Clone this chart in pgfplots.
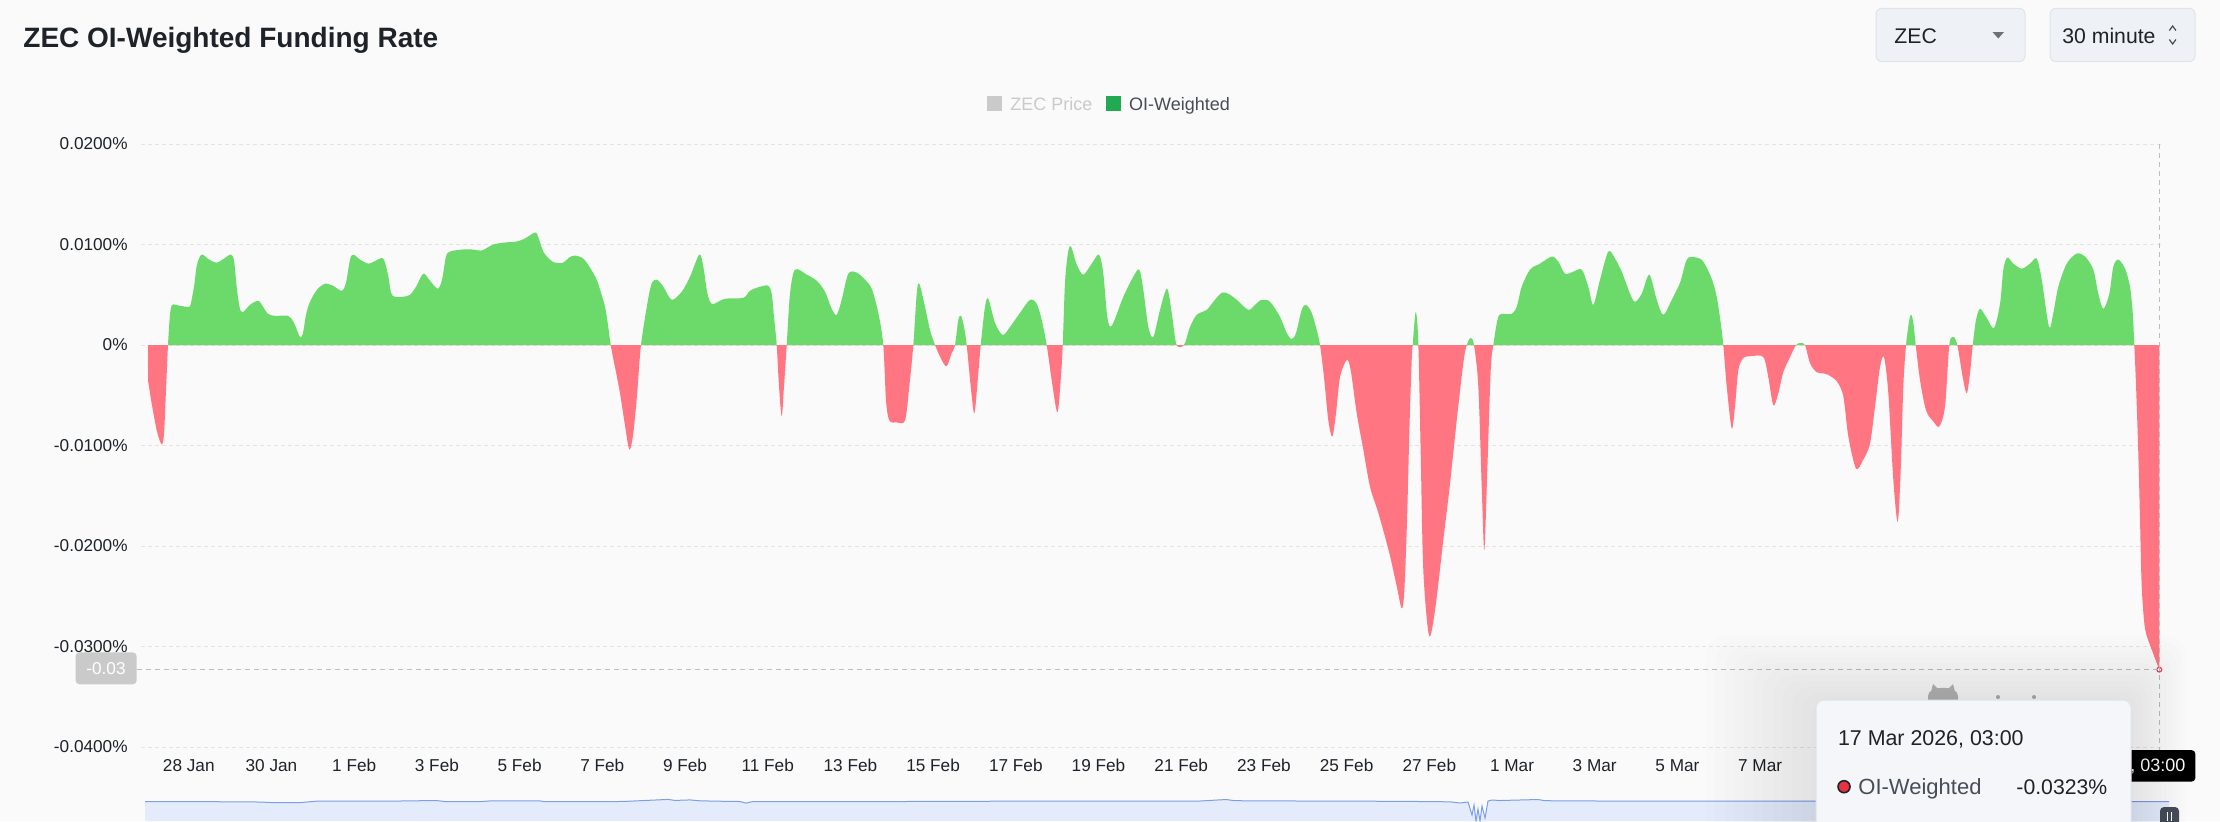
\documentclass[border=0pt]{standalone}
\usepackage{pgfplots}
\usepackage{pgfplotstable}
\pgfplotsset{compat=1.18}
\usepackage{fontspec}
\setmainfont{Liberation Sans}
\definecolor{bg}{HTML}{FAFAFA}
\definecolor{posg}{HTML}{6BDA6B}
\definecolor{negr}{HTML}{FF7682}
\definecolor{txt}{HTML}{1E2329}
\definecolor{txt2}{HTML}{474D57}
\definecolor{gridc}{HTML}{E4E4E4}
\definecolor{cross}{HTML}{BDBDBD}
\definecolor{lgreen}{HTML}{22AA52}
\definecolor{lgray}{HTML}{CACACA}
\definecolor{boxf}{HTML}{EEF1F5}
\definecolor{boxd}{HTML}{E0E4EA}
\definecolor{navf}{HTML}{E4EBFA}
\definecolor{navl}{HTML}{7D9EE8}
\definecolor{tipf}{HTML}{F4F6F9}
\definecolor{dotr}{HTML}{E8323F}
\definecolor{mrk}{HTML}{F6465D}

% OI-weighted funding rate, x = time position (px of the original chart), y in %
\pgfplotstableread{
x y
148 -0.0035
152 -0.0060
157 -0.0086
161.7 -0.0099
164 -0.0088
166 -0.0045
168 0.0000
170 0.0030
172.3 0.0040
180 0.0039
188 0.0038
190.5 0.0040
194 0.0058
197 0.0080
201.7 0.0090
209 0.0085
216.7 0.0082
224 0.0086
230.7 0.0090
234 0.0084
237 0.0055
240 0.0036
243.3 0.0033
250 0.0040
258.3 0.0044
263 0.0038
268 0.0031
275 0.0029
288.3 0.0029
294 0.0022
300 0.0008
303 0.0012
306 0.0030
310 0.0043
317 0.0055
325 0.0061
333 0.0059
341.7 0.0054
346 0.0062
350 0.0085
353.3 0.0090
360 0.0085
368.3 0.0081
376 0.0084
383.3 0.0086
388 0.0070
391 0.0052
395 0.0048
403 0.0048
410 0.0050
416 0.0058
423.3 0.0071
430 0.0064
437.7 0.0056
442 0.0065
446 0.0088
450 0.0093
462 0.0095
473.3 0.0095
481.7 0.0094
493.3 0.0100
505 0.0102
516.7 0.0103
525 0.0106
535 0.0112
538 0.0108
543.3 0.0093
550 0.0085
555 0.0082
563.3 0.0082
569 0.0087
575 0.0089
583.3 0.0086
590 0.0077
596.7 0.0065
601 0.0052
605 0.0038
608 0.0020
610.7 0.0000
615 -0.0022
620 -0.0048
625 -0.0080
629.3 -0.0104
633 -0.0090
637 -0.0050
641 0.0000
648 0.0045
652 0.0062
657 0.0065
663.3 0.0058
671.7 0.0045
681.7 0.0053
690 0.0068
699.3 0.0090
703.3 0.0078
706.7 0.0055
710 0.0043
714 0.0041
725 0.0046
743.3 0.0047
750 0.0054
760 0.0058
768.3 0.0059
771.7 0.0051
774 0.0028
776.7 0.0000
779 -0.0041
781.7 -0.0071
784 -0.0041
786.7 0.0000
790 0.0051
795 0.0075
806.7 0.0070
816.7 0.0064
825 0.0053
831.7 0.0036
836.7 0.0030
841.7 0.0045
848.3 0.0071
856.7 0.0072
865 0.0065
871.7 0.0056
878.3 0.0032
883.3 0.0000
886 -0.0055
889.3 -0.0075
896.7 -0.0077
905 -0.0075
909.3 -0.0041
913.3 0.0000
916.7 0.0051
919.3 0.0061
925 0.0038
930 0.0015
935 0.0000
941.7 -0.0015
946.7 -0.0021
951.7 -0.0008
955 0.0000
958.3 0.0025
961 0.0029
964 0.0018
966.7 0.0000
970.7 -0.0041
974.3 -0.0068
977.7 -0.0035
980.7 0.0000
985 0.0038
988.3 0.0046
995 0.0022
1002.7 0.0010
1010 0.0018
1020 0.0032
1030 0.0045
1036.7 0.0041
1041.7 0.0025
1046.7 0.0000
1051.7 -0.0035
1057.3 -0.0067
1060.7 -0.0035
1062.7 0.0000
1065 0.0062
1068 0.0092
1071 0.0098
1076.7 0.0080
1083.3 0.0070
1091.7 0.0081
1099 0.0090
1103.3 0.0071
1107.3 0.0028
1111.7 0.0019
1123.3 0.0048
1133.3 0.0068
1139.3 0.0075
1143.3 0.0055
1148.3 0.0018
1153.3 0.0008
1160 0.0035
1167 0.0056
1171.7 0.0032
1176 0.0002
1180.7 -0.0002
1185 0.0002
1190 0.0018
1196.7 0.0030
1206.7 0.0035
1213.3 0.0043
1221.7 0.0052
1228.3 0.0051
1236.7 0.0045
1248.3 0.0035
1255 0.0040
1261.7 0.0045
1270 0.0043
1280 0.0028
1286.7 0.0012
1291.7 0.0006
1296 0.0012
1301.7 0.0035
1306 0.0040
1311.7 0.0032
1316.7 0.0015
1320 0.0000
1324 -0.0032
1328.3 -0.0075
1332.3 -0.0091
1336 -0.0068
1340 -0.0032
1346.7 -0.0015
1350.7 -0.0025
1356.7 -0.0068
1363.3 -0.0104
1370 -0.0141
1378.3 -0.0167
1389.3 -0.0207
1396.7 -0.0240
1401.7 -0.0262
1404.3 -0.0245
1407 -0.0175
1409.5 -0.0080
1411.7 -0.0015
1412.7 0.0000
1415.7 0.0033
1418.3 0.0002
1420.7 -0.0108
1423.3 -0.0224
1429 -0.0289
1435 -0.0264
1443.3 -0.0194
1450 -0.0138
1456.7 -0.0075
1463.3 -0.0018
1466.7 0.0000
1470.7 0.0007
1474 0.0000
1478.3 -0.0041
1481.7 -0.0141
1484.3 -0.0204
1487.3 -0.0124
1490.7 -0.0025
1493.3 0.0000
1498.3 0.0028
1505 0.0031
1511.7 0.0031
1516.7 0.0038
1521.7 0.0058
1530 0.0075
1540 0.0081
1551.7 0.0088
1558.3 0.0083
1565 0.0071
1573.3 0.0073
1581.7 0.0075
1588.3 0.0058
1593.3 0.0040
1600 0.0065
1608.3 0.0093
1615 0.0086
1621.7 0.0073
1630 0.0051
1635 0.0043
1641.7 0.0051
1649.3 0.0070
1656.7 0.0045
1663.3 0.0030
1671.7 0.0045
1680 0.0062
1685 0.0080
1688.3 0.0087
1696.7 0.0087
1703.3 0.0083
1711.7 0.0066
1716.7 0.0048
1720.7 0.0022
1723.3 0.0000
1726.7 -0.0041
1731.7 -0.0083
1735 -0.0061
1738.3 -0.0025
1743.3 -0.0013
1751.7 -0.0011
1763.3 -0.0012
1768.3 -0.0032
1773.3 -0.0060
1778.3 -0.0048
1783.3 -0.0027
1790 -0.0012
1796 0.0000
1800.7 0.0002
1805 0.0000
1810 -0.0018
1816.7 -0.0027
1826.7 -0.0029
1836.7 -0.0036
1843.3 -0.0051
1848.3 -0.0091
1856 -0.0123
1863.3 -0.0114
1870 -0.0098
1875 -0.0061
1880 -0.0022
1884 -0.0012
1888.3 -0.0048
1893.3 -0.0134
1897.7 -0.0176
1900.7 -0.0124
1903.3 -0.0041
1906 0.0000
1909.3 0.0025
1911.3 0.0030
1913.3 0.0022
1915.7 0.0000
1920 -0.0035
1926 -0.0065
1933.3 -0.0076
1939.3 -0.0081
1945 -0.0061
1949.3 0.0000
1953.3 0.0008
1957.3 0.0000
1962.7 -0.0032
1966.7 -0.0048
1970 -0.0028
1972.7 0.0000
1976 0.0025
1980 0.0036
1986.7 0.0027
1994 0.0017
2000 0.0041
2003.3 0.0075
2007.3 0.0087
2013.3 0.0081
2021.7 0.0076
2030 0.0081
2036.7 0.0086
2041.7 0.0065
2049 0.0018
2053.3 0.0032
2058.3 0.0058
2066.7 0.0081
2076.7 0.0091
2085 0.0088
2093.3 0.0075
2098.3 0.0051
2103.3 0.0036
2109.3 0.0051
2113.3 0.0078
2118.3 0.0085
2125 0.0076
2130 0.0058
2132.7 0.0032
2134.3 0.0000
2136 -0.0040
2138.3 -0.0108
2140 -0.0174
2141.7 -0.0240
2145 -0.0282
2151.7 -0.0303
2159.3 -0.0323
}\fr

% navigator (ZEC price overview), relative height
\pgfplotstableread{
x h
145 19.3
200 19.4
260 19.0
275 18.3
300 18.4
316 19.8
350 20.0
400 20.0
436 20.5
445 19.5
480 19.4
490 20.1
540 20.1
545 19.3
600 19.3
625 19.6
640 20.3
668 21.6
675 20.6
690 21.1
700 20.2
719 19.8
740 19.5
746 17.9
752 19.3
800 19.3
900 19.5
1000 19.8
1100 19.8
1200 20.0
1226 21.5
1235 20.3
1300 20.0
1400 19.7
1450 19.2
1460 18.0
1468 19.0
1472 6.0
1474 16.0
1476 0.0
1478 12.0
1480 0.0
1482 15.0
1485 3.0
1488 20.0
1492 21.0
1500 20.5
1538 21.5
1545 20.3
1600 20.0
1700 20.0
1800 20.0
1900 19.8
2000 19.8
2100 19.6
2169 19.3
}\nav

\begin{document}
\begin{tikzpicture}[x=0.5pt,y=-0.5pt]
\path[use as bounding box] (0,0) rectangle (2220,821);
\clip (0,0) rectangle (2220,821);
\fill[bg] (0,0) rectangle (2220,821);

% title
\node[anchor=base west, inner sep=0pt, text=txt, font=\bfseries\fontsize{14}{16}\selectfont] at (23,47) {ZEC OI-Weighted Funding Rate};

% selectors
\draw[fill=boxf, draw=boxd, line width=0.5pt, rounded corners=3pt] (1876,8.3) rectangle (2025,61.7);
\node[anchor=base west, inner sep=0pt, text=txt, font=\fontsize{10.6}{12}\selectfont] at (1894,43.3) {ZEC};
\fill[txt2!80] (1992.5,32) -- (2004,32) -- (1998.2,38.5) -- cycle;
\draw[fill=boxf, draw=boxd, line width=0.5pt, rounded corners=3pt] (2050,8.3) rectangle (2195,61.7);
\node[anchor=base west, inner sep=0pt, text=txt, font=\fontsize{10.6}{12}\selectfont] at (2062,43.3) {30 minute};
\draw[txt2, line width=0.6pt] (2169.3,30.5) -- (2172.6,26) -- (2175.9,30.5);
\draw[txt2, line width=0.6pt] (2169.3,39.5) -- (2172.6,44) -- (2175.9,39.5);

% legend
\fill[lgray] (987.3,96) rectangle (1001.7,110.7);
\node[anchor=base west, inner sep=0pt, text=lgray, font=\fontsize{9}{11}\selectfont] at (1010,110) {ZEC Price};
\fill[lgreen] (1106,96) rectangle (1121.3,110.7);
\node[anchor=base west, inner sep=0pt, text=txt2, font=\fontsize{9}{11}\selectfont] at (1128.7,110) {OI-Weighted};

\begin{scope}[x=1cm,y=1cm]
\begin{axis}[
  at={(70.5pt,-373.5pt)}, anchor=south west,
  scale only axis, width=1011pt, height=301.5pt,
  xmin=141, xmax=2163, ymin=-0.04, ymax=0.02,
  axis line style={draw=none},
  major tick length=0pt,
  scaled x ticks=false, scaled y ticks=false,
  ytick={-0.04,-0.03,-0.02,-0.01,0,0.01,0.02},
  yticklabels={-0.0400\%,-0.0300\%,-0.0200\%,-0.0100\%,0\%,0.0100\%,0.0200\%},
  xtick={188.8,271.5,354.2,436.9,519.6,602.3,685,767.7,850.4,933.1,1015.8,1098.5,1181.2,1263.9,1346.6,1429.3,1512,1594.7,1677.4,1760.1},
  xticklabels={28 Jan,30 Jan,1 Feb,3 Feb,5 Feb,7 Feb,9 Feb,11 Feb,13 Feb,15 Feb,17 Feb,19 Feb,21 Feb,23 Feb,25 Feb,27 Feb,1 Mar,3 Mar,5 Mar,7 Mar},
  ymajorgrids,
  grid style={gridc, line width=0.5pt, dash pattern=on 2pt off 1.5pt},
  tick label style={font=\fontsize{8.6}{10}\selectfont, text=txt},
  yticklabel style={anchor=east, inner sep=0pt, xshift=-6.5pt},
  xticklabel style={anchor=base, inner sep=0pt, yshift=-12.2pt},
]
\begin{scope}
\clip (axis cs:100,0) rectangle (axis cs:2200,0.03);
\addplot[fill=posg, draw=none, smooth] table[x=x,y=y]{\fr} -- (axis cs:2159.3,0) -- (axis cs:148,0) -- cycle;
\end{scope}
\begin{scope}
\clip (axis cs:100,-0.05) rectangle (axis cs:2200,0);
\addplot[fill=negr, draw=none, smooth] table[x=x,y=y]{\fr} -- (axis cs:2159.3,0) -- (axis cs:148,0) -- cycle;
\end{scope}
\addplot[only marks, mark=*, mark size=1.2pt, mark options={fill=white, draw=mrk, line width=0.6pt}] coordinates {(2159.3,-0.0323)};
\end{axis}

\begin{axis}[
  at={(72.5pt,-410.5pt)}, anchor=south west,
  scale only axis, width=1012pt, height=12.5pt,
  xmin=145, xmax=2169, ymin=0, ymax=25,
  hide axis,
]
\addplot[fill=navf, draw=none] table[x=x,y=h]{\nav} \closedcycle;
\addplot[navl, line width=0.5pt] table[x=x,y=h]{\nav};
\end{axis}
\end{scope}

% crosshair
\draw[cross, line width=0.5pt, dash pattern=on 2.5pt off 2pt] (137,669.6) -- (2159.3,669.6);
\draw[cross, line width=0.5pt, dash pattern=on 2.5pt off 2pt] (2159.3,144) -- (2159.3,750);
\fill[lgray, rounded corners=2pt] (75.5,652.3) rectangle (136.7,684.3);
\node[text=white, inner sep=0pt, font=\fontsize{8.6}{10}\selectfont] at (106,668.3) {-0.03};

% navigator handle
\fill[txt2, rounded corners=2pt] (2160,807) rectangle (2179,830);
\draw[white, line width=0.5pt] (2167.5,812) -- (2167.5,821) (2171.5,812) -- (2171.5,821);

% watermark remnant
\fill[gray!55] (1928,702) -- (1928,696) .. controls (1928,685) and (1958,685) .. (1958,696) -- (1958,702) -- cycle;
\fill[gray!55] (1931,692) -- (1933,684) -- (1938,689) -- cycle;
\fill[gray!55] (1955,692) -- (1953,684) -- (1948,689) -- cycle;
\fill[gray!60] (1998,697) circle[radius=1pt];
\fill[gray!60] (2034,697) circle[radius=1pt];

% x crosshair label
\fill[black, rounded corners=2pt] (1990,750) rectangle (2195.4,781.7);
\node[anchor=base east, inner sep=0pt, text=white, font=\fontsize{9}{11}\selectfont] at (2185.7,771.4) {17 Mar 2026, 03:00};

% tooltip
\foreach \e in {4,12,...,92} {
  \fill[black, opacity=0.008, rounded corners=10pt] (1816-1.2*\e,700-0.7*\e) rectangle (2131+0.6*\e,860);
}
\draw[fill=tipf, draw=boxd, line width=0.5pt, rounded corners=4pt] (1816,700) rectangle (2131,860);
\node[anchor=base west, inner sep=0pt, text=txt, font=\fontsize{10.7}{12}\selectfont] at (1837.6,745.7) {17 Mar 2026, 03:00};
\filldraw[fill=dotr, draw=txt, line width=0.8pt] (1844,786.7) circle[radius=3pt];
\node[anchor=base west, inner sep=0pt, text=txt2, font=\fontsize{11}{13}\selectfont] at (1858,794.4) {OI-Weighted};
\node[anchor=base east, inner sep=0pt, text=txt, font=\fontsize{10.6}{12}\selectfont] at (2107.6,794.4) {-0.0323\%};
\end{tikzpicture}
\end{document}
